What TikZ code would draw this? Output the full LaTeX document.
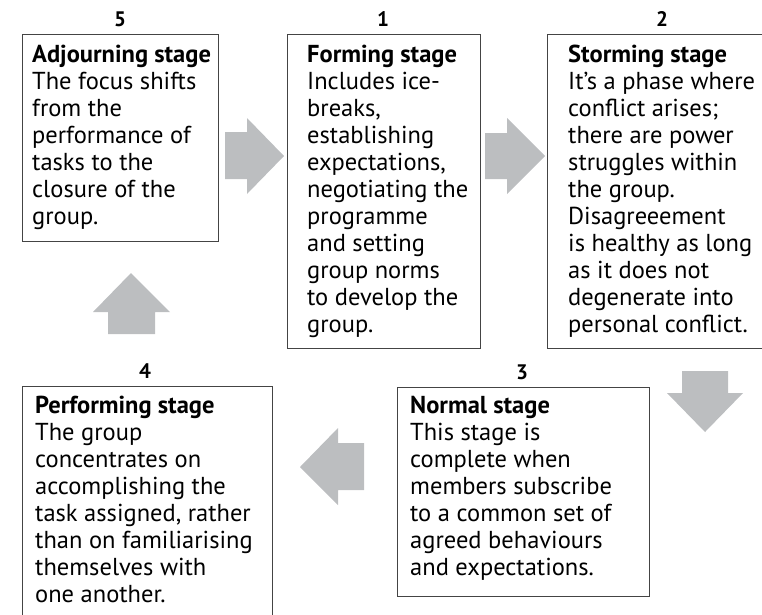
\documentclass[tikz,border=0pt]{standalone}
\usepackage{fontspec}
\setmainfont{PT Sans}
\usetikzlibrary{positioning}
\definecolor{arrowgray}{HTML}{BCBEC0}
\definecolor{boxline}{HTML}{444444}

\begin{document}
\begin{tikzpicture}[x=1pt,y=-1pt,line join=miter,
	stagebox/.style={draw=boxline,line width=1.1pt,inner sep=0pt,anchor=north west},
	stagetext/.style={anchor=north west,inner sep=0pt,align=left,font=\fontsize{24.5}{27}\selectfont},
	stagenum/.style={anchor=base,inner sep=0pt,font=\bfseries\fontsize{21}{22}\selectfont}]
	\useasboundingbox (0,0) rectangle (762,614);
	\clip (0,0) rectangle (762,614);
	% boxes
	\node[stagebox,minimum width=196pt,minimum height=207pt] (box5) at (22,34) {};
	\node[stagebox,minimum width=193pt,minimum height=314pt] (box1) at (287,34) {};
	\node[stagebox,minimum width=230pt,minimum height=314pt] (box2) at (547,34) {};
	\node[stagebox,minimum width=252pt,minimum height=209pt] (box3) at (397,387) {};
	\node[stagebox,minimum width=250pt,minimum height=240pt] (box4) at (22,386) {};
	% numbers
	\node[stagenum] (n5) at (120,26) {5};
	\node[stagenum] (n1) at (383,26) {1};
	\node[stagenum] (n2) at (662,26) {2};
	\node[stagenum] (n3) at (522,379) {3};
	\node[stagenum] (n4) at (145,378) {4};
	% texts
	\node[stagetext] (t5) at (32,45) {\textbf{Adjourning stage}\\The focus shifts\\from the\\performance of\\tasks to the\\closure of the\\group.};
	\node[stagetext] (t1) at (307,45) {\textbf{Forming stage}\\Includes ice-\\breaks,\\establishing\\expectations,\\negotiating the\\programme\\and setting\\group norms\\to develop the\\group.};
	\node[stagetext] (t2) at (568,45) {\textbf{Storming stage}\\It’s a phase where\\conflict arises;\\there are power\\struggles within\\the group.\\Disagreeement\\is healthy as long\\as it does not\\degenerate into\\personal conflict.};
	\node[stagetext] (t3) at (410,396) {\textbf{Normal stage}\\This stage is\\complete when\\members subscribe\\to a common set of\\agreed behaviours\\and expectations.};
	\node[stagetext] (t4) at (35,396) {\textbf{Performing stage}\\The group\\concentrates on\\accomplishing the\\task assigned, rather\\than on familiarising\\themselves with\\one another.};
	% block arrows
	\fill[arrowgray] (225,132) -- (247,132) -- (247,118) -- (284,156) -- (247,194) -- (247,179) -- (225,179) -- cycle;
	\fill[arrowgray] (485,133) -- (507,133) -- (507,118) -- (545,156) -- (507,194) -- (507,179) -- (485,179) -- cycle;
	\fill[arrowgray] (682,371) -- (728,371) -- (728,393) -- (743,393) -- (705,432) -- (667,393) -- (682,393) -- cycle;
	\fill[arrowgray] (364,443) -- (338,443) -- (338,428) -- (300,467) -- (338,505) -- (338,490) -- (364,490) -- cycle;
	\fill[arrowgray] (108,334) -- (108,312) -- (93,312) -- (131,273) -- (170,312) -- (155,312) -- (155,334) -- cycle;
\end{tikzpicture}
\end{document}
